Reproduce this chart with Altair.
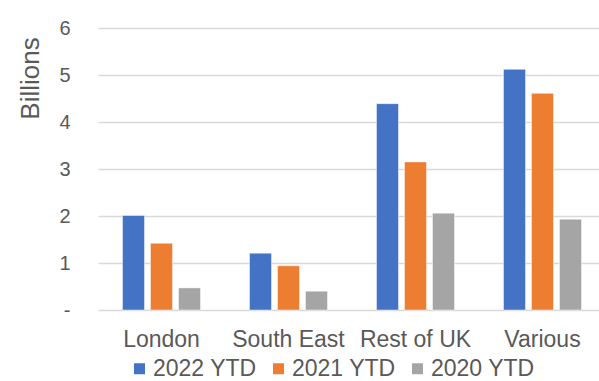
import altair as alt
import pandas as pd

# Values in billions per region
regions = ["London", "South East", "Rest of UK", "Various"]
series = ["2022 YTD", "2021 YTD", "2020 YTD"]
ytd_2022 = [2.01, 1.21, 4.39, 5.12]
ytd_2021 = [1.42, 0.94, 3.15, 4.61]
ytd_2020 = [0.47, 0.40, 2.06, 1.93]
colors = ["#4472C4", "#ED7D31", "#A5A5A5"]

rows = []
for name, vals in zip(series, [ytd_2022, ytd_2021, ytd_2020]):
    for region, v in zip(regions, vals):
        rows.append({"Region": region, "Series": name, "Value": v})
df = pd.DataFrame(rows)

TEXT = "#595959"

chart = (
    alt.Chart(df)
    .mark_bar(stroke="white", strokeWidth=1, strokeOpacity=0.45)
    .encode(
        x=alt.X(
            "Region:N",
            sort=regions,
            scale=alt.Scale(range=[0, 508], paddingInner=0, paddingOuter=0),
            axis=alt.Axis(
                title=None,
                labelAngle=0,
                labelFontSize=23,
                labelColor=TEXT,
                labelPadding=18,
                ticks=False,
                domain=False,
                grid=False,
            ),
        ),
        xOffset=alt.XOffset(
            "Series:N",
            sort=series,
            scale=alt.Scale(paddingInner=0.214, paddingOuter=0.875),
        ),
        y=alt.Y(
            "Value:Q",
            scale=alt.Scale(domain=[0, 6], nice=False),
            axis=alt.Axis(
                title="Billions",
                values=[0, 1, 2, 3, 4, 5, 6],
                labelExpr="datum.value == 0 ? '-' : datum.label",
                labelFontSize=20,
                labelColor=TEXT,
                labelPadding=28,
                ticks=False,
                domain=False,
                grid=True,
                gridColor="#D9D9D9",
                gridWidth=1.4,
                titleFontSize=26,
                titleFontWeight="normal",
                titleColor=TEXT,
                titleAngle=270,
                titleAlign="center",
                titleBaseline="middle",
                titleX=-68,
                titleY=50,
            ),
        ),
        color=alt.Color(
            "Series:N",
            sort=series,
            scale=alt.Scale(domain=series, range=colors),
            legend=alt.Legend(
                title=None,
                orient="none",
                direction="horizontal",
                legendX=30,
                legendY=329,
                symbolType="square",
                symbolSize=121,
                symbolStrokeWidth=0,
                labelFontSize=23,
                labelColor=TEXT,
                labelOffset=2,
                columnPadding=10,
            ),
        ),
    )
    .properties(
        width=501,
        height=282,
        padding={"left": 98, "top": 28, "right": 0, "bottom": 71},
        autosize=alt.AutoSizeParams(type="none"),
    )
    .configure(font="Liberation Sans")
    .configure_view(stroke=None)
)

chart.save("out.html", embed_options={"renderer": "svg", "actions": False})
